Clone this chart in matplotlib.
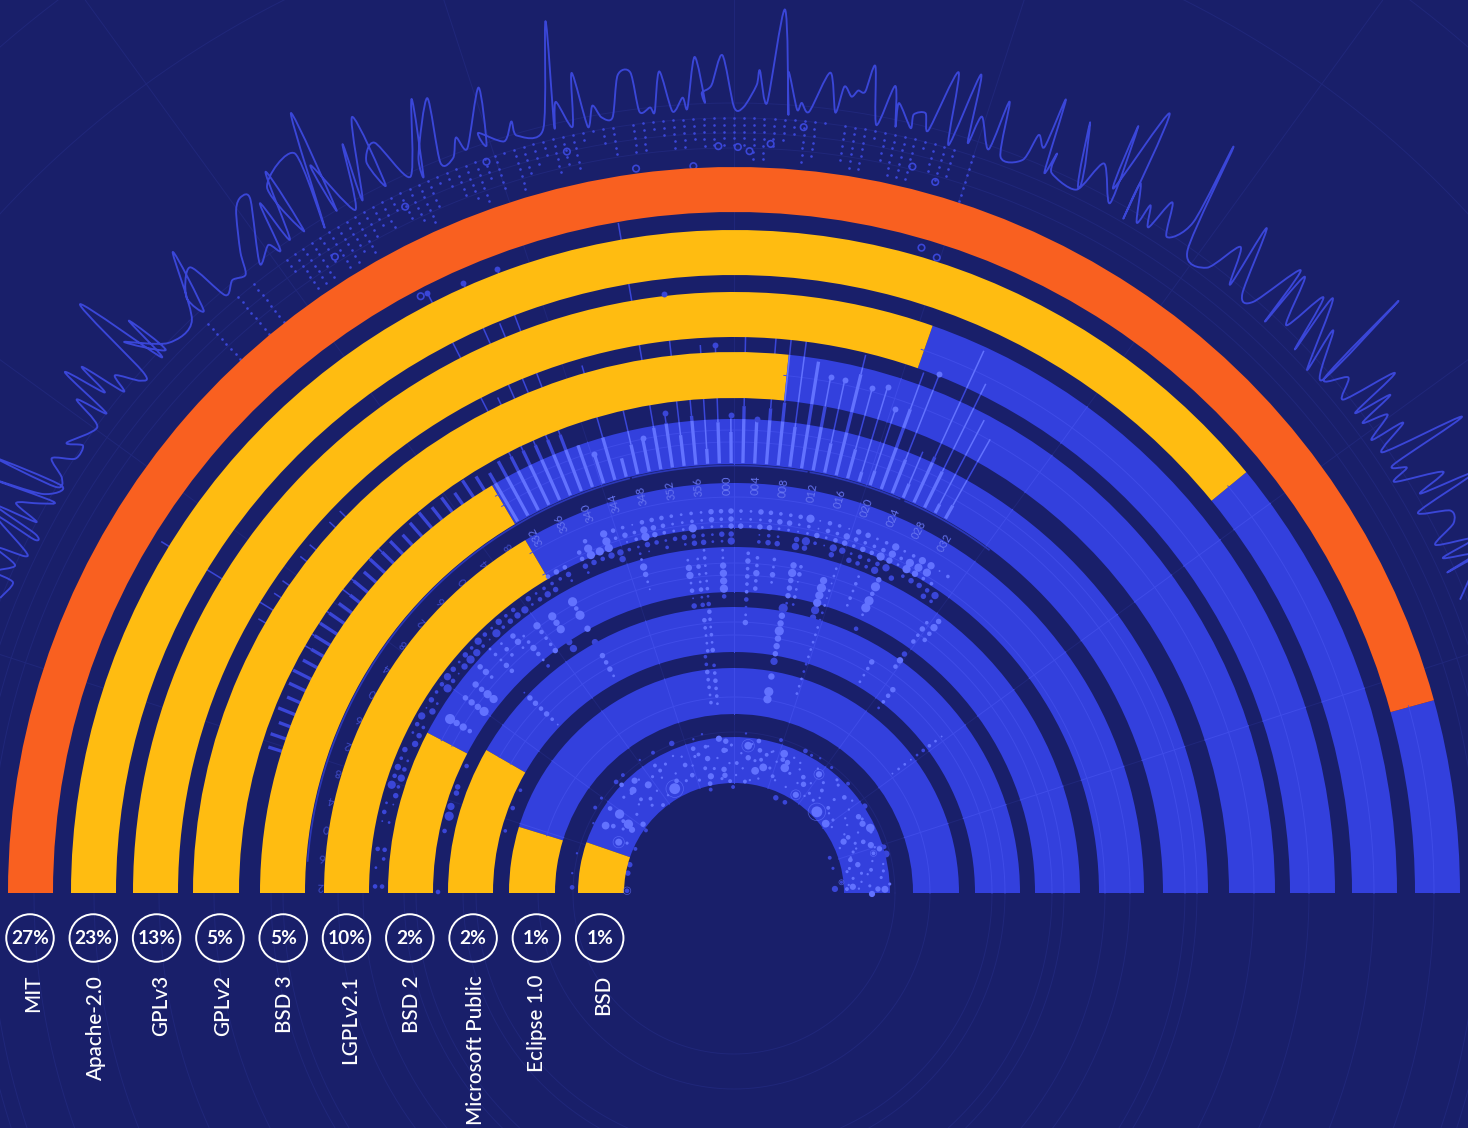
import numpy as np
import matplotlib
matplotlib.use("Agg")
import matplotlib.pyplot as plt
from matplotlib.path import Path
from matplotlib.patches import PathPatch

# ---- data ----
licenses = ["MIT", "Apache-2.0", "GPLv3", "GPLv2", "BSD 3", "LGPLv2.1", "BSD 2", "Microsoft Public", "Eclipse 1.0", "BSD"]
shares = ["27%", "23%", "13%", "5%", "5%", "10%", "2%", "2%", "1%", "1%"]
ring_outer = [726, 663, 601, 541, 474, 410, 346, 286, 225, 156]
ring_inner = [681, 618, 556, 495, 429, 365, 301, 241, 179, 110]
ring_end_deg = [15.4, 39.4, 70.7, 84.2, 120.7, 120.6, 152.4, 150.0, 162.9, 161.0]
ring_colors = ["#F96020"] + ["#FFBC11"] * 9

wave_deg = [158.1,156.7,156.5,155.5,154.9,154.6,154.2,152.9,153.2,152.8,152.3,152.0,151.5,150.7,150.1,150.8,150.0,148.8,149.5,149.1,148.3,147.5,146.6,145.5,146.0,143.8,143.1,142.6,142.1,141.5,141.1,140.6,140.1,139.2,138.6,138.0,136.9,136.6,136.3,137.9,135.8,133.4,131.2,132.3,132.6,131.0,130.4,129.3,128.3,127.6,126.1,125.3,124.9,127.0,125.7,125.2,124.5,124.2,123.0,123.0,123.5,120.7,121.6,119.6,120.2,120.2,119.0,117.6,118.2,116.2,116.2,116.7,115.6,114.3,112.1,113.4,113.2,111.1,111.9,110.9,110.2,109.7,107.6,108.3,108.6,107.0,106.1,106.0,104.0,102.2,103.2,102.7,101.9,101.2,100.8,100.2,99.7,98.9,98.1,97.2,96.9,96.1,95.8,95.2,94.5,93.7,93.4,92.7,92.1,92.3,91.6,90.8,90.0,89.3,88.4,88.2,87.6,86.7,86.0,86.2,85.4,85.1,84.5,83.3,82.6,82.2,81.6,81.2,80.7,80.3,79.5,78.7,78.1,78.2,77.0,77.0,76.2,75.7,74.7,74.0,73.2,72.7,72.3,71.1,70.8,70.1,68.5,68.1,67.4,67.3,66.7,66.4,66.2,63.9,65.2,64.0,63.1,61.4,62.2,61.7,60.8,60.0,60.2,59.0,58.8,58.1,57.6,56.6,55.6,56.2,54.8,52.9,51.9,50.8,51.3,49.7,48.7,47.7,47.1,47.2,45.8,45.3,44.1,44.8,42.4,43.2,41.1,41.7,41.1,40.0,39.0,38.2,37.7,37.2,36.8,36.2,35.4,35.1,34.2,33.2,33.0,32.3,31.9,30.7,30.2,29.6,29.1,28.1,27.2,26.4,25.6,25.3,24.6,24.2,24.2,22.0]
wave_val = [791,785,806,790,816,785,788,830,784,786,835,790,817,796,785,847,798,786,858,791,790,809,789,790,805,789,822,790,848,804,838,790,807,784,788,880,784,833,786,822,789,789,852,788,809,829,785,792,788,809,845,853,845,788,798,787,837,790,860,789,846,860,781,897,790,842,781,845,786,865,789,818,832,786,857,782,801,852,787,787,805,791,845,788,802,786,803,788,788,892,787,811,783,836,780,800,787,785,826,827,787,790,785,825,784,797,786,837,792,801,808,838,786,786,808,823,791,885,780,823,786,793,785,826,787,814,805,812,812,839,781,823,783,807,785,799,803,787,851,778,855,786,815,786,838,783,788,817,808,860,785,807,787,785,849,785,818,786,867,800,893,779,818,782,804,784,818,786,813,898,787,784,821,785,852,786,787,842,780,840,792,838,781,844,776,822,780,890,784,802,784,841,785,824,785,810,782,818,784,870,786,796,778,825,794,852,783,812,809,783,822,784,815,782,813,783]

# outer dot matrix: number of dots in each column, from the outer edge inwards
outer_counts = [0,8,0,0,0,8,0,8,0,0,0,3,7,7,7,5,7,7,6,7,5,4,5,3,5,6,7,5,2,3,5,6,7,4,6,1,7,5,4,3,6,5,6,2,1,3,5,0,5,5,2,3,5,5,4,5,5,5,5,5,7,7,5,4,3,7,6,1,0,6,7,7,2,5,7,7,7,2,5,6,5,0,8]
hollow_deg = [122.1,115.6,108.7,102.7,97.7,93.2,91.2,89.7,88.8,87.2,84.8,76.2,74.2,73.8,72.3,117.7]
hollow_val = [751,761,772,760,731,728,747,746,742,750,769,748,739,672,667,674]

# spikes, from the left end of the arc to the right end
spike_thick = [488,490,486,492,488,492,494,490,488,492,494,492,490,486,492,490,494,490,492,488,492,494,490,492,488,494,490,486,492,490,490,490,490,490,474,461,474,449,460,464,472,475,461,479,445,471,461,487,475,486,493,470,538,495,460,534,460,440,445,515,466,445,480,470,440,445]
spike_thin = [0,0,0,0,0,0,0,0,549,672,549,549,0,549,549,0,549,549,0,0,0,0,0,0,0,0,0,0,0,674,549,667,616,667,0,461,549,0,495,464,680,485,603,495,549,548,478,560,0,560,560,560,0,525,525,554,524,529,510,554,558,480,597,568,535,521]
spike_dot = [0,0,0,0,0,0,0,0,0,0,0,0,0,0,0,0,0,0,0,0,0,0,0,0,0,0,0,0,0,1,0,1,0,1,0,1,0,0,0,1,0,1,1,0,0,1,1,0,1,0,0,0,0,1,1,0,1,1,1,0,1,0,0,0,0,0]

# dot matrix in the arc above the middle rings, one string per column, digit = dot size
dot_cols = ["00055","00000","00030","00004","00055","00000","00000","00023","00050","00032","00006","00094","00058","00075","00043","00060","00007","00036","00054","00080","00027","00063","00040","00059","00085","00062","00037","00069","00048","00084","00052","00039","00074","00046","00057","00008","00063","00035","00047",
            "00546","00640","00563","00000","05563","59960","00950","89970","54077","46240","24433","58962","56650","55434","43350","33363","44956","33346","66333","54363","66668","42600","33300","63624","54646","46336","46300","53268","94396","22640","55320","44586","27670","65436","64655","34544","45958","88780","34306","49940","89760","89460","20456","40084","00000"]

streak_deg = [105.5,97.9,96.2,95.0,91.9,87.6,86.0,83.1,79.7,78.4,74.0,72.5,80.2,65.2,68.5,54.5,53.0,59.2,52.0,119.0,123.3,126.4,129.3,136.3,96.9,37.0,148.5,144.0,141.1,138.3,135.0,130.7,133.0,164.9,163.0,167.9,154.6,160.2,159.0,154.3,159.0,164.8,179.8]
streak_start = [346,336,336,344,343,340,336,336,333,333,325,340,289,345,340,332,340,269,258,333,331,332,332,290,238,260,333,332,332,340,345,339,341,295,296,296,296,295,296,237,237,237,296]
streak_sizes = [[3,8,6,3,2],[3,7,8,3,5,2,6],[3,5,3,3,5,3,5,0,5,4,3,3,4],[3,4,3,3,3,4,3,5,5,4,3,4,3,5,0,4,4,5,4,4,3],[3,3,7,8,8,9,5],[4,6,4,5,4,4,5,3,3,6],[4,4,7,4,5],[4,3,6,3],[7,9,6,6,6,3],[4,5,2,3,4,3],[8,10,9,9,9,7],[3,3,2,3,2,3,3,3,3,3,3,3,3,3,3,3,3,3],[10,7,7,10,7,7,6,8,0,7,0,10,9],[6,10,5,10,10,3,0,5],[3,4,3,4,3],[4,6,4,5,0,6,7,5],[6,8,5,5],[6,4,3,3],[6,5,4,3],[10,5,10,0,7,0,7,0,6,5,6,3],[9,7,9,0,7,8],[8,5,4,4,6],[3,4,7,5,3,4],[2,6,6,5,6,4,2],[4,4,5,4,4,3,4],[2,3,4,4,3,2,3,3,2],[11,7,8,5],[6,7,7,10],[7,6,9,9],[6,7,4],[3,4,3,6,5],[6,7,3],[3,5,4],[10],[8],[5],[5],[6],[6],[4],[5],[4],[5]]

# bubbles in the innermost ring
bub_deg = [156.2,146.9,152.3,145.4,148.2,142.9,151.0,145.7,131.5,128.4,134.5,136.7,119.6,112.6,105.8,101.0,104.4,110.9,101.1,101.2,94.6,109.5,84.5,84.0,76.9,80.2,88.8,93.2,70.2,69.9,67.7,67.9,71.7,59.1,54.4,57.4,57.8,44.4,37.1,40.9,31.5,28.3,25.5,25.1,19.3,16.9,15.9,14.4,12.9,3.0,1.6,1.4,-0.4,2.0,66.3,60.7,76.7,79.7,78.5,93.1,95.6,94.0,102.7,90.5,84.4,94.4,92.0,102.3,117.1,121.1,121.8,120.0,136.1,135.7,134.8,131.5,128.9,144.6,155.9,164.8,169.4,178.8,178.0,2.3,20.2,14.0,5.7,49.4,43.8,33.6,17.1,42.1,26.0,15.9,21.6,9.6,63.3,80.7,72.9,133.3,148.4,144.4,153.6,165.8,173.0,101.4,85.7,60.6,3.3,8.4,36.4,33.9,22.3,19.0,8.8,10.7,52.9,49.5,47.7,63.0,57.4,52.1,74.5,104.8,125.3]
bub_val = [126,126,145,139,120,114,138,150,150,138,144,162,120,162,150,149,143,137,137,119,124,125,148,136,129,124,130,143,148,142,141,135,123,135,146,129,116,116,115,146,146,146,151,121,145,152,145,157,127,119,144,151,138,113,104,104,142,145,136,152,155,143,106,106,112,118,112,112,126,143,150,162,156,143,132,126,113,108,108,108,108,107,162,101,102,102,108,135,158,157,157,127,127,121,139,139,159,154,160,162,163,163,157,162,163,162,160,158,156,151,123,134,131,126,129,115,125,122,153,146,160,159,147,159,163]
bub_size = [9,12,10,12,8,7,6,6,8,9,9,6,14,7,6,5,5,6,7,8,7,6,10,7,10,10,5,5,10,6,7,11,5,6,8,7,8,14,10,6,7,8,11,8,8,7,5,9,7,8,7,9,8,5,7,6,5,6,5,7,8,7,5,5,5,7,5,6,6,5,5,5,6,5,5,5,5,5,5,7,7,6,6,8,5,4,4,5,5,7,6,5,6,6,6,5,6,6,5,5,5,4,3,3,3,3,3,4,4,4,4,3,4,4,4,4,4,4,4,3,3,4,3,3,3]
small_deg = [155,150,147,141,139,137,133,130,127,125,124,122,118,116,114,113,111,108,107,106,103,100,99,97,96,92,91,89,87,86,83,82,81,78,75,74,72,70,66,65,64,62,60,56,55,54,51,48,46,45,43,40,38,36,34,31,30,28,26,24,23,20,18,17,13,12,11,8,7,6,5,4,3,2]
small_val = [118,128,132,125,146,130,120,148,128,142,118,136,146,133,150,122,146,134,118,142,128,149,126,136,115,130,148,118,140,125,150,114,134,117,146,130,138,120,148,132,118,140,127,150,134,120,142,128,150,118,137,124,150,142,118,132,148,125,138,150,115,130,148,122,142,118,152,135,120,148,128,115,136,125]
small_size = [4,4,5,4,4,3,4,3,3,4,3,3,4,3,3,4,3,3,4,4,5,3,4,3,4,3,4,3,3,3,3,3,4,3,3,4,3,3,3,4,3,3,3,3,3,3,4,3,4,3,4,3,3,3,3,3,4,3,3,4,3,3,3,3,3,4,3,3,4,4,3,3,4,3]
bub_ringed = [156.2,119.6,84.5,54.4,57.8,44.4,15.9,178.8,5.7]

scale_labels = ["272","276","280","284","288","292","296","300","304","308","312","316","320","324","328","332","336","340","344","348","352","356","000","004","008","012","016","020","024","028","032"]
scale_deg = [179,175,171,167,163,159,155,151,147,143,139,135,131,127,123,119,115,111,107,103,99,95,91,87,83,79,75,71,67,63,59]
scale_arcs = [(176,104.2),(103.8,80.2),(79.8,67.2),(66.8,53.4)]

grid_deg = [18,36,54,72,90,108,126,144,162]
grid_r = [161,196,258,271,318,330,371,396,451,463,520,575,640,700,745,760,775,790,1000,1120]

# ---- style ----
BG = "#191F6A"; BLUE = "#3340DD"; LIGHT = "#6272FF"; MID = "#3A46D8"; FAINT = "#20277A"; GRIDON = "#3F4CE8"

R = 1160
fig = plt.figure(figsize=(14.68, 11.28), dpi=100, facecolor=BG)
ax = fig.add_axes([(734 - R) / 1468, (235 - R) / 1128, 2 * R / 1468, 2 * R / 1128], projection="polar")
ax.set_facecolor(BG)
ax.set_rlim(0, R)
ax.set_autoscale_on(False)
ax.spines["polar"].set_visible(False)
ax.set_xticks([])
ax.set_yticks([])
ax.grid(False)
rad = np.deg2rad

# faint scale lines on the background
circle = rad(np.arange(0, 360.5, 0.5))
for gr in grid_r:
    ax.plot(circle, np.full(circle.shape, gr), color=FAINT, lw=0.7, zorder=0.5)
for g in grid_deg:
    ax.plot([rad(g)] * 2, [110, R], color=FAINT, lw=0.7, zorder=0.5)

# rings: blue part then coloured part
for ro, ri, e, c in zip(ring_outer, ring_inner, ring_end_deg, ring_colors):
    ax.bar(rad(e / 2), ro - ri, width=rad(e), bottom=ri, color=BLUE, linewidth=0, zorder=2)
    ax.bar(rad((e + 180) / 2), ro - ri, width=rad(180 - e), bottom=ri, color=c, linewidth=0, zorder=2.2)

def blue_end(r):
    for ro, ri, e in zip(ring_outer, ring_inner, ring_end_deg):
        if ri <= r <= ro:
            return e
    return None

def draw_dots(th, r, sz, k):
    th, r, sz = np.array(th, float), np.array(r, float), np.array(sz, float)
    on = np.array([(blue_end(a) is not None and t < blue_end(a)) for t, a in zip(th, r)], dtype=bool)
    area = (k * sz) ** 2
    ax.scatter(rad(th[~on]), r[~on], s=area[~on], color=MID, linewidths=0, zorder=1.2)
    ax.scatter(rad(th[on]), r[on], s=area[on], color=LIGHT, linewidths=0, zorder=3)

# grid lines on the blue parts
for ro, ri, e in zip(ring_outer, ring_inner, ring_end_deg):
    for g in grid_deg:
        if g < e:
            ax.plot([rad(g)] * 2, [ri, ro], color=GRIDON, lw=0.7, zorder=2.5)
    for gr in grid_r:
        if ri < gr < ro:
            t = rad(np.arange(0, e + 0.5, 0.5))
            ax.plot(t, np.full(t.shape, gr), color=GRIDON, lw=0.7, zorder=2.5)

# outer wave: the read points joined by smooth curve segments
pts = np.column_stack([rad(np.array(wave_deg)), wave_val])
verts, codes = [pts[0]], [Path.MOVETO]
for i in range(len(pts) - 1):
    p0 = pts[max(i - 1, 0)]; p1 = pts[i]; p2 = pts[i + 1]; p3 = pts[min(i + 2, len(pts) - 1)]
    verts += [p1 + (p2 - p0) * 0.14, p2 - (p3 - p1) * 0.14, p2]
    codes += [Path.CURVE4] * 3
ax.add_patch(PathPatch(Path(np.array(verts), codes), fill=False, edgecolor=MID, lw=1.35, zorder=1.3, joinstyle="round"))

# outer dot columns
t_o, r_o = [], []
for i, n in enumerate(outer_counts):
    for k in range(n):
        t_o.append(133.5 - 0.75 * i)
        r_o.append(775 - 6.8 * k)
ax.scatter(rad(np.array(t_o)), r_o, s=3.6, color=MID, linewidths=0, zorder=1.2)
ax.scatter(rad(np.array(hollow_deg)), hollow_val, s=22, facecolors="none", edgecolors=MID, linewidths=1.2, zorder=1.4)

# spikes
def spike(th, r0, r1, lw):
    ax.plot([rad(th)] * 2, [r0, r1], color=MID, lw=lw, zorder=1.1, solid_capstyle="butt")
    for ro, ri, e in zip(ring_outer, ring_inner, ring_end_deg):
        lo, hi = max(r0, ri), min(r1, ro)
        if lo < hi and th < e:
            ax.plot([rad(th)] * 2, [lo, hi], color=LIGHT, lw=lw, zorder=3, solid_capstyle="butt")

for i, (a, b, d) in enumerate(zip(spike_thick, spike_thin, spike_dot)):
    th = 162.6 - 1.57 * i
    spike(th, 430, a, 2.4)
    if b > a:
        spike(th, a, b, 1.1)
    if d:
        tip = max(a, b)
        e = blue_end(tip)
        c = LIGHT if (e is not None and th < e) else MID
        ax.scatter(rad(th), tip, s=18, color=c, linewidths=0, zorder=3)

# middle dots
t_m, r_m, s_m = [], [], []
rows = [382, 374, 367, 359, 352]
for i, col in enumerate(dot_cols):
    for rr, ch in zip(rows, col):
        if ch != "0":
            t_m.append(178.95 - 1.5 * i)
            r_m.append(rr)
            s_m.append(int(ch))
for th, r0, sizes in zip(streak_deg, streak_start, streak_sizes):
    for k, s in enumerate(sizes):
        if s:
            t_m.append(th)
            r_m.append(r0 - 7.7 * k)
            s_m.append(s)
draw_dots(t_m, r_m, s_m, 0.66)

# inner bubbles
draw_dots(bub_deg + small_deg, bub_val + small_val, bub_size + small_size, 0.56)
for th in bub_ringed:
    i = bub_deg.index(th)
    ax.scatter(rad(th), bub_val[i], s=(0.9 * bub_size[i]) ** 2, facecolors="none", edgecolors=LIGHT, linewidths=0.5, zorder=3, alpha=0.7)

# scale around the spikes
for lab_text, th in zip(scale_labels, scale_deg):
    visible = th < 120.6
    ax.text(rad(th), 408, lab_text, rotation=th, rotation_mode="anchor", ha="center", va="center",
            fontsize=8, family="Lato", color="#6673F0" if visible else "#3F4BC8", zorder=3.5 if visible else 1.5)
for a, b in scale_arcs:
    t = rad(np.arange(b, a, 0.5))
    ax.plot(t, np.full(t.shape, 427.5), color="#2C38B8", lw=1.2, zorder=2.6)

# labels below the arc
lab = fig.add_axes([0, 0, 1, 1], facecolor="none")
lab.set_xlim(0, 1468)
lab.set_ylim(1128, 0)
lab.axis("off")
name_x = [33, 96, 161, 223, 285, 350, 412, 476, 537, 603]
for i, (name, share, nx) in enumerate(zip(licenses, shares, name_x)):
    cx = 30 + 63.3 * i
    lab.scatter([cx], [938], s=1170, facecolors="none", edgecolors="white", linewidths=1.4)
    lab.text(cx, 938.5, share, color="white", ha="center", va="center", fontsize=13.8, family="Lato", fontweight="bold")
    lab.text(nx, 975, name, color="white", rotation=90, ha="center", va="top", fontsize=14.9, family="Lato", fontweight="medium")

fig.savefig("out.png", dpi=100, facecolor=BG)
